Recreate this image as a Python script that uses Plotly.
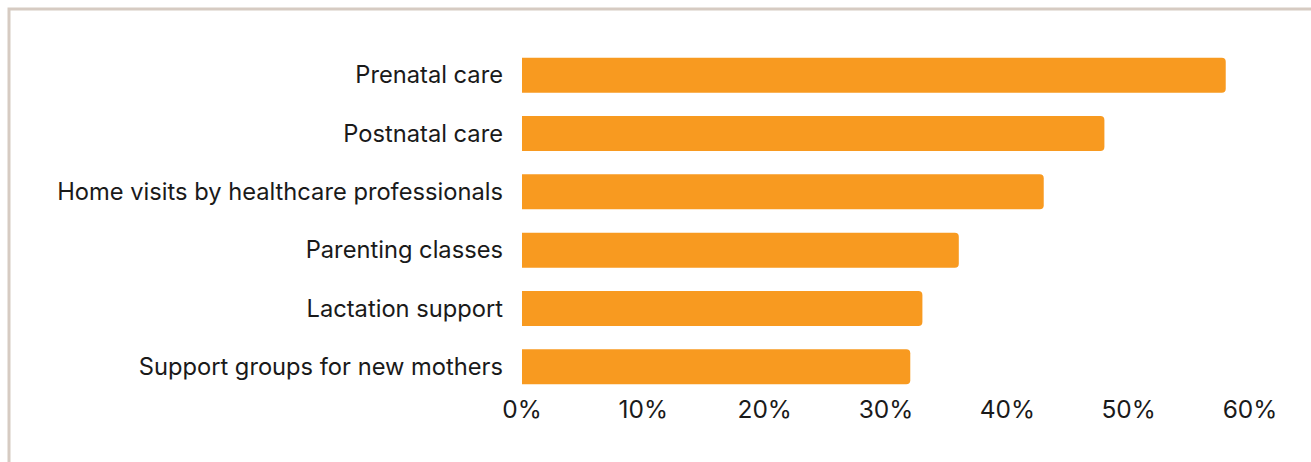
import plotly.graph_objects as go

# Share of respondents who found each service helpful
services = [
    "Prenatal care",
    "Postnatal care",
    "Home visits by healthcare professionals",
    "Parenting classes",
    "Lactation support",
    "Support groups for new mothers",
]
shares = [0.58, 0.48, 0.43, 0.36, 0.33, 0.32]

tick_vals = [0, 0.1, 0.2, 0.3, 0.4, 0.5, 0.6]
tick_text = ["0%", "10%", "20%", "30%", "40%", "50%", "60%"]

BAR_COLOR = "#F89A20"
TEXT_COLOR = "#1a1a1a"
FONT = "Inter"

W, H = 1311, 462
ML, MR, MT, MB = 522, 61, 46, 66

fig = go.Figure(
    go.Bar(
        x=shares,
        y=services,
        orientation="h",
        marker=dict(color=BAR_COLOR, line=dict(width=0)),
        hoverinfo="skip",
    )
)

# thin frame around the card (left and top edges visible)
plot_w = W - ML - MR
plot_h = H - MT - MB
fx0 = (9 - ML) / plot_w
fy1 = (H - MB - 9) / plot_h
fig.add_shape(
    type="rect", xref="paper", yref="paper",
    x0=fx0, x1=3, y0=-3, y1=fy1,
    line=dict(color="#d6cbc2", width=3),
    fillcolor="rgba(0,0,0,0)", layer="below",
)

fig.update_layout(
    width=W, height=H,
    margin=dict(l=ML, r=MR, t=MT, b=MB, pad=0),
    paper_bgcolor="white", plot_bgcolor="white",
    bargap=0.4,
    barcornerradius=4,
    showlegend=False,
    font=dict(family=FONT, color=TEXT_COLOR),
)
fig.update_xaxes(
    range=[0, 0.6],
    tickvals=tick_vals, ticktext=tick_text,
    showgrid=False, zeroline=False, showline=False,
    ticks="", tickfont=dict(size=24.5, family=FONT, color=TEXT_COLOR),
    ticklabelstandoff=-4,
)
fig.update_yaxes(
    categoryorder="array", categoryarray=services[::-1],
    showgrid=False, zeroline=False, showline=False,
    ticks="", tickfont=dict(size=23.7, family=FONT, color=TEXT_COLOR),
    ticklabelstandoff=18,
)

fig.write_html("out.html")
